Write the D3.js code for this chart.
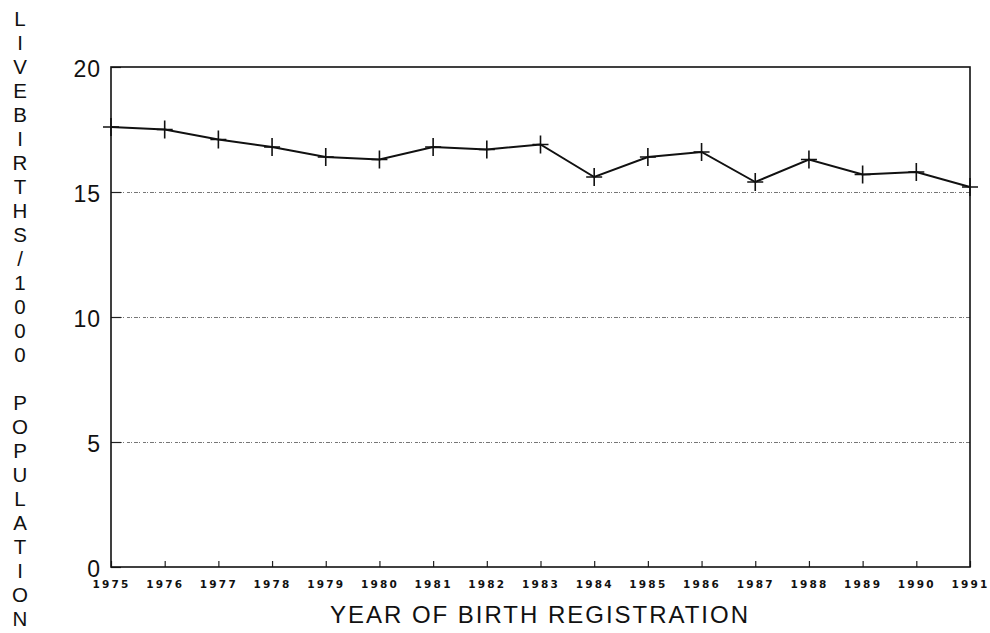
<!DOCTYPE html>
<html lang="en">
<head>
    <meta charset="UTF-8">
    <title>Live births per 1000 population</title>
    <script src="https://cdn.jsdelivr.net/npm/d3@7/dist/d3.min.js"></script>
    <style>
        body { margin: 0; background: #fff; }
    </style>
</head>
<body>

<script>

    // values
    const years = [1975, 1976, 1977, 1978, 1979, 1980, 1981, 1982, 1983,
        1984, 1985, 1986, 1987, 1988, 1989, 1990, 1991];
    const rates = [17.6, 17.5, 17.1, 16.8, 16.4, 16.3, 16.8, 16.7, 16.9,
        15.6, 16.4, 16.6, 15.4, 16.3, 15.7, 15.8, 15.2];
    const y_ticks = [0, 5, 10, 15, 20];
    const grid_values = [5, 10, 15];
    const y_title = "LIVEBIRTHS/1000 POPULATION";
    const x_title = "YEAR OF BIRTH REGISTRATION";

    const width = 990;
    const height = 633;
    const margin = {top: 67, right: 20, bottom: 66, left: 111};

    const svg = d3.select("body").append("svg")
        .attr("width", width)
        .attr("height", height);

    const x = d3.scaleLinear()
        .domain([1975, 1991])
        .range([margin.left, width - margin.right]);

    const y = d3.scaleLinear()
        .domain([0, 20])
        .range([height - margin.bottom, margin.top]);

    // dotted gridlines
    svg.append("g")
        .attr("stroke", "#777")
        .attr("stroke-width", 1)
        .attr("stroke-dasharray", "3,1,1,2,4,1,1,3")
        .selectAll("line")
        .data(grid_values)
        .join("line")
        .attr("x1", x(1975))
        .attr("x2", x(1991))
        .attr("y1", d => y(d) + 0.5)
        .attr("y2", d => y(d) + 0.5);

    // x axis, ticks pointing in
    const x_axis = svg.append("g")
        .attr("transform", `translate(0,${y(0)})`)
        .call(d3.axisBottom(x)
            .tickValues(years)
            .tickFormat(d3.format("d"))
            .tickSize(-6)
            .tickPadding(14));

    x_axis.select(".domain").remove();
    x_axis.selectAll("line").attr("stroke", "#222").attr("stroke-width", 1.2);
    x_axis.selectAll("text")
        .attr("fill", "#111")
        .attr("font-family", "DejaVu Sans, sans-serif")
        .attr("font-weight", "bold")
        .attr("font-size", 10.5)
        .attr("letter-spacing", "2.2px");

    // y axis
    const y_axis = svg.append("g")
        .attr("transform", `translate(${x(1975)},0)`)
        .call(d3.axisLeft(y)
            .tickValues(y_ticks)
            .tickSize(-10)
            .tickPadding(10));

    y_axis.select(".domain").remove();
    y_axis.selectAll("line").attr("stroke", "#222").attr("stroke-width", 1.2);
    y_axis.selectAll("text")
        .attr("fill", "#111")
        .attr("font-family", "Liberation Sans, Arial, sans-serif")
        .attr("font-size", 23)
        .attr("letter-spacing", "1px")
        .attr("dy", "0.42em");

    // frame
    svg.append("rect")
        .attr("x", x(1975))
        .attr("y", y(20))
        .attr("width", x(1991) - x(1975))
        .attr("height", y(0) - y(20))
        .attr("fill", "none")
        .attr("stroke", "#111")
        .attr("stroke-width", 1.6);

    // the series
    const line = d3.line()
        .x((d, i) => x(years[i]))
        .y(d => y(d));

    svg.append("path")
        .datum(rates)
        .attr("fill", "none")
        .attr("stroke", "#111")
        .attr("stroke-width", 2)
        .attr("d", line);

    svg.append("g")
        .attr("stroke", "#111")
        .attr("stroke-width", 1.6)
        .attr("fill", "none")
        .selectAll("path")
        .data(rates)
        .join("path")
        .attr("transform", (d, i) => `translate(${x(years[i])},${y(d)})`)
        .attr("d", "M-8,0H8M0,-9V9");

    // stacked vertical y title, one letter per text
    svg.append("g")
        .attr("font-family", "Liberation Sans, Arial, sans-serif")
        .attr("font-size", 20.5)
        .attr("fill", "#111")
        .attr("text-anchor", "middle")
        .selectAll("text")
        .data(y_title.split(""))
        .join("text")
        .attr("x", 20)
        .attr("y", (d, i) => 26 + i * 24)
        .text(d => d);

    svg.append("text")
        .attr("x", 539)
        .attr("y", 623)
        .attr("text-anchor", "middle")
        .attr("font-family", "Liberation Sans, Arial, sans-serif")
        .attr("font-size", 24)
        .attr("fill", "#111")
        .attr("textLength", 418)
        .text(x_title);

</script>

</body>
</html>
